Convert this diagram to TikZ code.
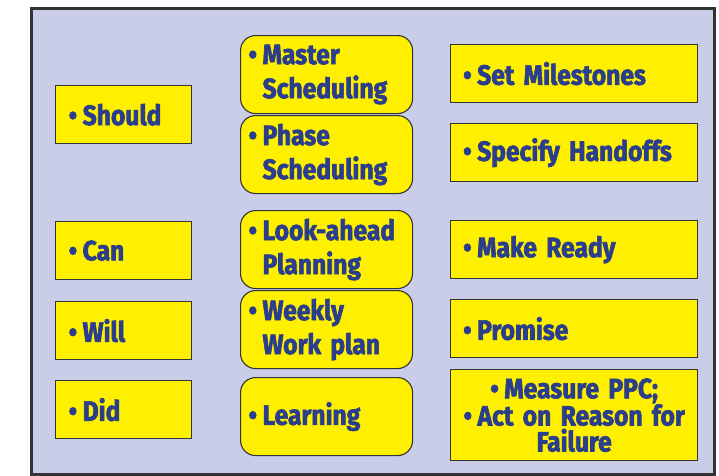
\documentclass[tikz,border=0pt]{standalone}
\usepackage{fontspec}
\setmainfont{Fira Sans}[FakeStretch=0.88,WordSpace=0.75,BoldFont={Fira Sans Bold},BoldFeatures={FakeBold=2.2}]
\definecolor{bgl}{HTML}{C9CDE8}
\definecolor{ylw}{HTML}{FFF000}
\definecolor{txtb}{HTML}{2B3E8C}
\definecolor{frm}{HTML}{333333}
\tikzset{
  lbox/.style={draw=frm,line width=1.3pt,fill=ylw,anchor=north west,minimum width=136pt,minimum height=58pt,text width=126pt,inner xsep=0pt,inner ysep=0pt,align=left,font=\bfseries\fontsize{28}{34}\selectfont,text=txtb},
  mbox/.style={draw=frm,line width=1.1pt,fill=ylw,rounded corners=15pt,anchor=north west,minimum width=172pt,minimum height=78pt,text width=166pt,inner xsep=0pt,inner ysep=0pt,align=left,font=\bfseries\fontsize{28}{34}\selectfont,text=txtb},
  rbox/.style={draw=frm,line width=1.3pt,fill=ylw,anchor=north west,minimum width=247pt,minimum height=58pt,text width=240pt,inner xsep=0pt,inner ysep=0pt,align=left,font=\bfseries\fontsize{28}{34}\selectfont,text=txtb},
}
\newcommand{\bl}{•\hspace{5.5pt}}
\newcommand{\bp}{\phantom{•}\hspace{5.5pt}}
\begin{document}
\begin{tikzpicture}[x=1pt,y=-1pt]
\useasboundingbox (0,0) rectangle (719,475);
\node[draw=frm,line width=2.5pt,fill=bgl,anchor=north west,minimum width=683pt,minimum height=466pt,inner sep=0pt] (frame) at (30,7) {};
% left column
\node[lbox] (should) at (55,85) {\hspace*{8pt}\bl Should};
\node[lbox] (can) at (55,221) {\hspace*{8pt}\bl Can};
\node[lbox] (will) at (55,301) {\hspace*{8pt}\bl Will};
\node[lbox] (did) at (55,380) {\hspace*{8pt}\bl Did};
% middle column
\node[mbox] (master) at (240,35) {\hspace*{5pt}\bl Master\\\hspace*{5pt}\bp Scheduling};
\node[mbox] (phase) at (240,115) {\hspace*{5pt}\bl Phase\\\hspace*{5pt}\bp Scheduling};
\node[mbox] (look) at (240,210) {\hspace*{5pt}\bl Look-ahead\\\hspace*{5pt}\bp Planning};
\node[mbox] (weekly) at (240,290) {\hspace*{5pt}\bl Weekly\\\hspace*{5pt}\bp Work plan};
\node[mbox] (learn) at (240,377) {\hspace*{5pt}\bl Learning};
% right column
\node[rbox] (mile) at (450,44) {\hspace*{9pt}\bl Set Milestones};
\node[rbox] (hand) at (450,123) {\hspace*{9pt}\bl Specify Handoffs};
\node[rbox] (ready) at (450,220) {\hspace*{9pt}\bl Make Ready};
\node[rbox] (prom) at (450,299) {\hspace*{9pt}\bl Promise};
\node[rbox,text width=247pt,minimum height=91pt,align=center,font=\bfseries\fontsize{28}{26}\selectfont] (ppc) at (450,369) {\bl Measure PPC;\\\bl Act on Reason for\\Failure};
\end{tikzpicture}
\end{document}
